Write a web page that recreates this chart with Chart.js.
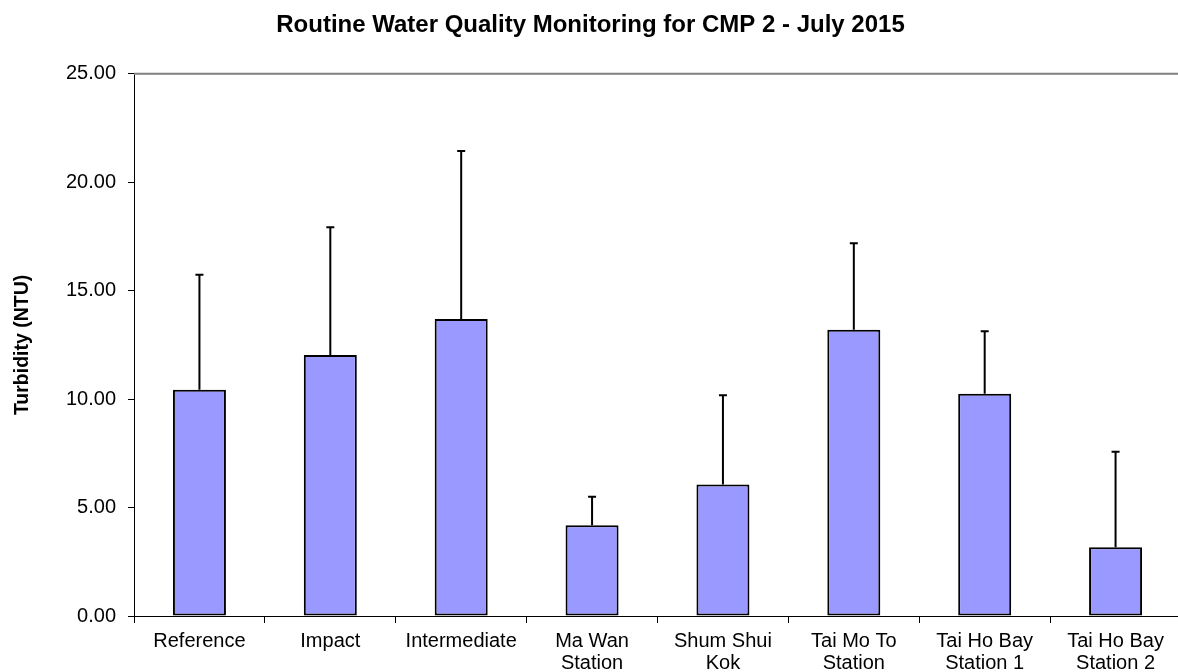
<!DOCTYPE html>
<html>
<head>
<meta charset="utf-8">
<script src="https://cdn.jsdelivr.net/npm/chart.js@4.4.1/dist/chart.umd.min.js"></script>
<style>
  html, body { margin: 0; padding: 0; background: #fff; overflow: hidden; }
  canvas { display: block; }
</style>
</head>
<body>
<canvas id="chartTurbidity" width="1181" height="672"></canvas>
<script>
// Data
const stations = [
    ['Reference'],
    ['Impact'],
    ['Intermediate'],
    ['Ma Wan', 'Station'],
    ['Shum Shui', 'Kok'],
    ['Tai Mo To', 'Station'],
    ['Tai Ho Bay', 'Station 1'],
    ['Tai Ho Bay', 'Station 2']
];
const meanTurbidity = [10.43, 12.03, 13.69, 4.19, 6.06, 13.20, 10.25, 3.17];
const sdTurbidity = [5.31, 5.90, 7.75, 1.31, 4.12, 3.99, 2.88, 4.40];
const yTicks = [0, 5, 10, 15, 20, 25];

const fontFamily = '"Liberation Sans", Arial, sans-serif';

// Upward error bars with a small cap
const errorBars = {
    id: 'errorBars',
    afterDatasetsDraw(chart) {
        const { ctx, scales: { y } } = chart;
        ctx.save();
        ctx.strokeStyle = '#000';
        ctx.lineWidth = 2;
        chart.getDatasetMeta(0).data.forEach((bar, i) => {
            const top = y.getPixelForValue(meanTurbidity[i] + sdTurbidity[i]);
            ctx.beginPath();
            ctx.moveTo(bar.x, bar.y);
            ctx.lineTo(bar.x, top);
            ctx.moveTo(bar.x - 4, top);
            ctx.lineTo(bar.x + 4, top);
            ctx.stroke();
        });
        ctx.restore();
    }
};

// Grey frame line along the top of the plot area
const topLine = {
    id: 'topLine',
    beforeDatasetsDraw(chart) {
        const { ctx, chartArea } = chart;
        ctx.save();
        ctx.strokeStyle = '#808080';
        ctx.lineWidth = 2;
        ctx.beginPath();
        ctx.moveTo(chartArea.left, chartArea.top);
        ctx.lineTo(chartArea.right, chartArea.top);
        ctx.stroke();
        ctx.restore();
    }
};

new Chart(document.getElementById('chartTurbidity'), {
    type: 'bar',
    data: {
        labels: stations,
        datasets: [{
            data: meanTurbidity,
            backgroundColor: '#9999FF',
            borderColor: '#000',
            borderWidth: 2,
            borderSkipped: false,
            categoryPercentage: 1,
            barPercentage: 0.405,
        }]
    },
    options: {
        responsive: false,
        animation: false,
        layout: { padding: 0 },
        plugins: {
            legend: { display: false },
            tooltip: { enabled: false },
            title: {
                display: true,
                text: 'Routine Water Quality Monitoring for CMP 2 - July 2015',
                color: '#000',
                font: { family: fontFamily, size: 24, weight: 'bold', lineHeight: 1.2 },
                padding: { top: 11, bottom: 34 },
            }
        },
        scales: {
            x: {
                afterFit: scale => { scale.height = 56; },
                border: { color: '#000', width: 1 },
                grid: {
                    offset: true,
                    drawOnChartArea: false,
                    color: '#000',
                    tickLength: 7,
                },
                ticks: {
                    color: '#000',
                    padding: 7,
                    maxRotation: 0,
                    autoSkip: false,
                    font: { family: fontFamily, size: 20, lineHeight: 1.1 },
                }
            },
            y: {
                min: 0,
                max: 25,
                afterFit: scale => { scale.width = 134; },
                afterBuildTicks: scale => { scale.ticks = yTicks.map(v => ({ value: v })); },
                border: { color: '#000', width: 1 },
                grid: {
                    drawOnChartArea: false,
                    color: '#000',
                    tickLength: 6,
                },
                ticks: {
                    color: '#000',
                    padding: 12,
                    font: { family: fontFamily, size: 20 },
                    callback: v => v.toFixed(2),
                },
                title: {
                    display: true,
                    text: 'Turbidity (NTU)',
                    color: '#000',
                    font: { family: fontFamily, size: 19.5, weight: 'bold', lineHeight: 1.2 },
                    padding: { top: 11, bottom: 0 },
                }
            }
        }
    },
    plugins: [errorBars, topLine]
});
</script>
</body>
</html>
